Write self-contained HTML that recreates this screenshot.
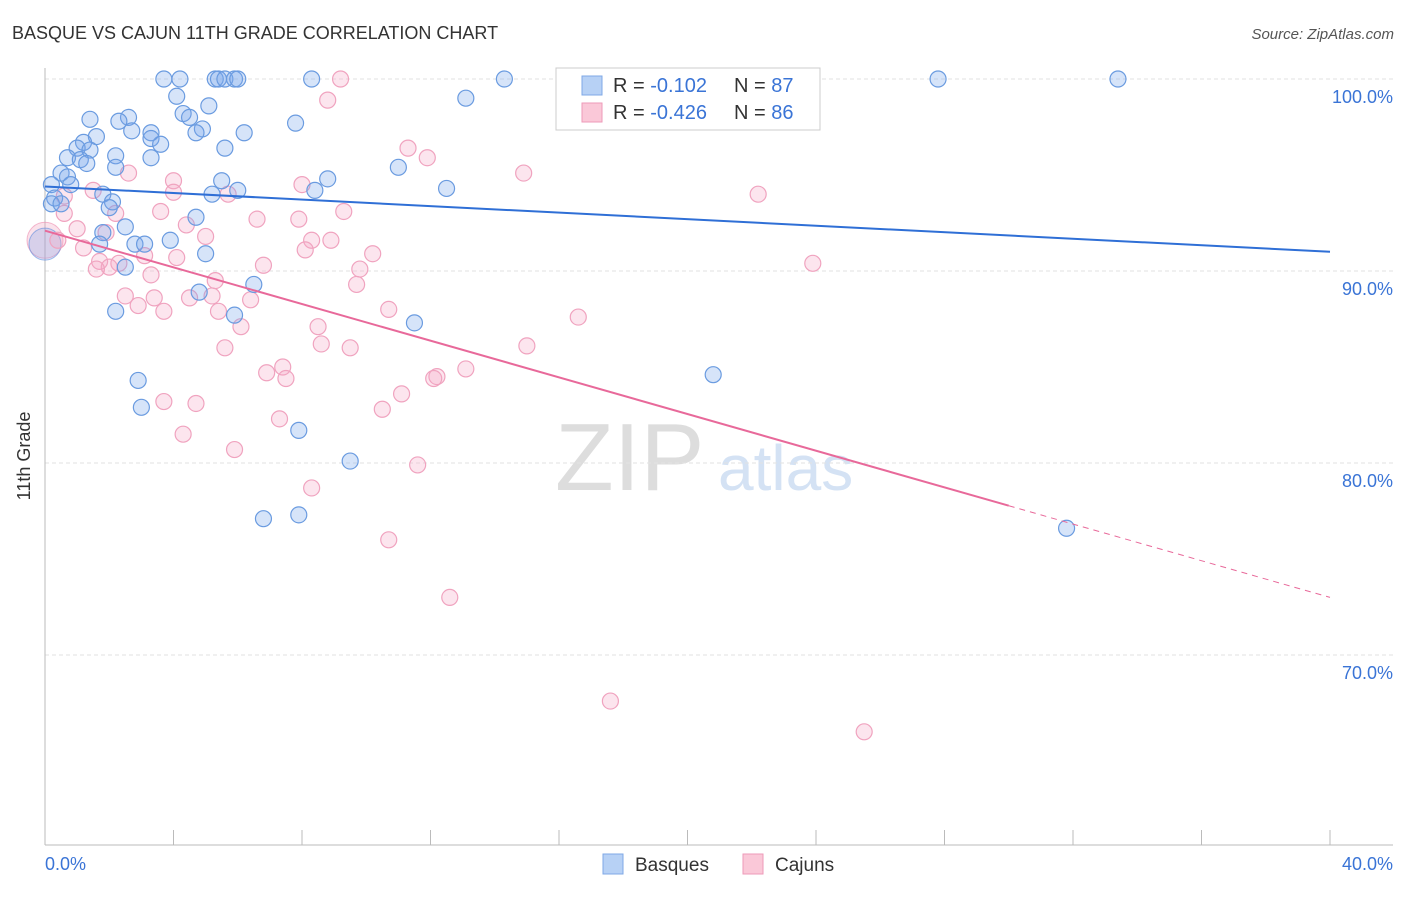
<!DOCTYPE html>
<html><head><meta charset="utf-8"><style>
body{margin:0;background:#fff;font-family:"Liberation Sans",sans-serif;}
svg text{font-family:"Liberation Sans",sans-serif;}
</style></head><body>
<svg id="chart" width="1406" height="892" xmlns="http://www.w3.org/2000/svg">
<text x="12" y="39" font-size="18" fill="#333">BASQUE VS CAJUN 11TH GRADE CORRELATION CHART</text>
<text x="1394" y="39" font-size="15" fill="#555" font-style="italic" text-anchor="end">Source: ZipAtlas.com</text>
<text x="30" y="456" font-size="18" fill="#333" transform="rotate(-90 30 456)" text-anchor="middle">11th Grade</text>
<text x="555" y="490" font-size="96" fill="#ddd" font-family="Liberation Serif">ZIP</text>
<text x="718" y="490" font-size="64" fill="#d4e2f4">atlas</text>
<g id="grid"></g><g id="pts"></g><g id="trend"></g>
<g>
<rect x="556" y="68" width="264" height="62" fill="#fff" stroke="#ccc"/>
<rect x="582" y="76" width="20" height="19" fill="#b7d1f5" stroke="#7fa8e6"/>
<rect x="582" y="103" width="20" height="19" fill="#fac8d8" stroke="#ee9ab8"/>
<text x="613" y="92" font-size="20" fill="#333">R = <tspan fill="#3a74d6">-0.102</tspan><tspan x="734">N = </tspan><tspan fill="#3a74d6">87</tspan></text>
<text x="613" y="119" font-size="20" fill="#333">R = <tspan fill="#3a74d6">-0.426</tspan><tspan x="734">N = </tspan><tspan fill="#3a74d6">86</tspan></text>
</g>
<g>
<rect x="603" y="854" width="20" height="20" fill="#b7d1f5" stroke="#7fa8e6"/>
<text x="635" y="871" font-size="19" fill="#333">Basques</text>
<rect x="743" y="854" width="20" height="20" fill="#fac8d8" stroke="#ee9ab8"/>
<text x="775" y="871" font-size="19" fill="#333">Cajuns</text>
</g>
</svg>
<script>
const blueX=[3.7,4.2,5.3,5.4,5.6,5.9,6.0,8.3,14.3,27.8,33.4,4.1,13.1,5.1,4.3,4.5,1.4,2.6,2.3,2.7,4.9,4.7,6.2,7.8,3.3,3.3,1.6,3.6,1.2,1.0,1.4,5.6,2.2,0.7,1.1,1.3,3.3,2.2,11.0,0.5,0.7,8.8,5.5,0.2,0.8,12.5,6.0,8.4,1.8,2.1,5.2,0.3,0.2,0.5,2.0,4.7,2.5,1.8,1.7,2.8,3.1,3.9,5.0,2.5,6.5,4.8,2.2,5.9,11.5,20.8,2.9,3.0,7.9,9.5,6.8,7.9,31.8];
const blueY=[100,100,100,100,100,100,100,100,100,100,100,99.1,99.0,98.6,98.2,98.0,97.9,98.0,97.8,97.3,97.4,97.2,97.2,97.7,97.2,96.9,97.0,96.6,96.7,96.4,96.3,96.4,96.0,95.9,95.8,95.6,95.9,95.4,95.4,95.1,94.9,94.8,94.7,94.5,94.5,94.3,94.2,94.2,94.0,93.6,94.0,93.8,93.5,93.5,93.3,92.8,92.3,92.0,91.4,91.4,91.4,91.6,90.9,90.2,89.3,88.9,87.9,87.7,87.3,84.6,84.3,82.9,81.7,80.1,77.1,77.3,76.6];
const pinkX=[9.2,8.8,11.3,11.9,14.9,2.6,4.0,8.0,4.0,5.7,1.5,22.2,0.6,0.6,2.2,3.6,9.3,6.6,4.4,7.9,1.0,1.9,5.0,8.3,8.9,0.4,1.2,8.1,10.2,3.1,4.1,1.7,2.3,6.8,9.8,23.9,2.0,1.6,3.3,5.3,9.7,2.5,3.4,4.5,5.2,6.4,2.9,3.7,5.4,10.7,16.6,6.1,8.5,5.6,8.6,9.5,15.0,7.4,6.9,7.5,13.1,12.2,12.1,11.1,3.7,4.7,10.5,7.3,4.3,5.9,11.6,8.3,10.7,12.6,17.6,25.5];
const pinkY=[100,98.9,96.4,95.9,95.1,95.1,94.7,94.5,94.1,94.0,94.2,94.0,93.9,93.0,93.0,93.1,93.1,92.7,92.4,92.7,92.2,92.0,91.8,91.6,91.6,91.6,91.2,91.1,90.9,90.8,90.7,90.5,90.4,90.3,90.1,90.4,90.2,90.1,89.8,89.5,89.3,88.7,88.6,88.6,88.7,88.5,88.2,87.9,87.9,88.0,87.6,87.1,87.1,86.0,86.2,86.0,86.1,85.0,84.7,84.4,84.9,84.5,84.4,83.6,83.2,83.1,82.8,82.3,81.5,80.7,79.9,78.7,76.0,73.0,67.6,66.0];
const yTicks=[100,90,80,70];
const xTickLabels=["0.0%","40.0%"];
const blueTrend=[94.4,91.0];
const pinkTrend=[92.1,73.0];
const NS="http://www.w3.org/2000/svg";
const sx=v=>45+v/40*1285;
const sy=v=>79+(100-v)*19.2;
function mk(t,a,p){const e=document.createElementNS(NS,t);for(const k in a)e.setAttribute(k,a[k]);p.appendChild(e);return e;}
const grid=document.getElementById('grid');
yTicks.forEach(v=>{
 const l=mk('line',{x1:45,x2:1393,y1:sy(v),y2:sy(v),stroke:'#e2e2e2','stroke-dasharray':'4,3'},grid);
 
 
 const t=mk('text',{x:1393,y:sy(v)+24,'font-size':18,fill:'#3a74d6','text-anchor':'end'},grid);
 t.textContent=v.toFixed(1)+'%';
 
 
});
const ax=mk('line',{x1:45,x2:45,y1:68,y2:845,stroke:'#bbb'},grid);


const bx=mk('line',{x1:45,x2:1393,y1:845,y2:845,stroke:'#bbb'},grid);


for(let k=0;k<=40;k+=4){
 const tk=mk('line',{x1:sx(k),x2:sx(k),y1:830,y2:845,stroke:'#bbb'},grid);
 
 
}
const t0=mk('text',{x:45,y:870,'font-size':18,fill:'#3a74d6'},grid);t0.textContent=xTickLabels[0];


const t1=mk('text',{x:1393,y:870,'font-size':18,fill:'#3a74d6','text-anchor':'end'},grid);t1.textContent=xTickLabels[1];


const pts=document.getElementById('pts');
const big1=mk('circle',{cx:sx(0),cy:sy(91.6),r:18,fill:'rgba(240,160,190,0.3)',stroke:'rgba(236,140,175,0.6)'},pts);


const big2=mk('circle',{cx:sx(0),cy:sy(91.4),r:16,fill:'rgba(110,155,230,0.25)',stroke:'rgba(95,140,220,0.6)'},pts);


pinkX.forEach((x,i)=>{
 const c=mk('circle',{cx:sx(x),cy:sy(pinkY[i]),r:8,fill:'rgba(244,170,198,0.3)',stroke:'#f0a3bf','stroke-width':1.2},pts);
 
 
});
blueX.forEach((x,i)=>{
 const c=mk('circle',{cx:sx(x),cy:sy(blueY[i]),r:8,fill:'rgba(120,165,235,0.3)',stroke:'#6a9be0','stroke-width':1.2},pts);
 
 
});
const tr=document.getElementById('trend');
const bl=mk('line',{x1:sx(0),y1:sy(blueTrend[0]),x2:sx(40),y2:sy(blueTrend[1]),stroke:'#2f6fd6','stroke-width':2},tr);


const pAt=x=>pinkTrend[0]+(pinkTrend[1]-pinkTrend[0])*x/40;
const pl=mk('line',{x1:sx(0),y1:sy(pAt(0)),x2:sx(30),y2:sy(pAt(30)),stroke:'#e8699a','stroke-width':2},tr);


const pd=mk('line',{x1:sx(30),y1:sy(pAt(30)),x2:sx(40),y2:sy(pAt(40)),stroke:'#e8699a','stroke-width':1,'stroke-dasharray':'6,5'},tr);


</script>
</body></html>
